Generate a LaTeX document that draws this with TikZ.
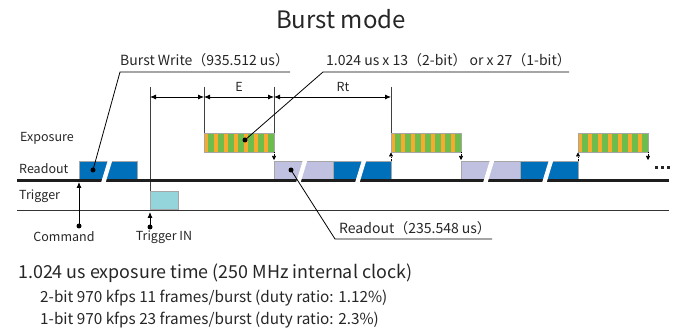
\documentclass[tikz,border=0pt]{standalone}
\usepackage{fontspec}
\setmainfont{Noto Sans CJK JP}
\usetikzlibrary{arrows.meta,positioning,calc}
\definecolor{rdblue}{HTML}{0070BA}
\definecolor{rdlav}{HTML}{C0C0E0}
\definecolor{trgcyan}{HTML}{94D4DB}
\definecolor{expor}{HTML}{F8AA2E}
\definecolor{expgr}{HTML}{6CBD4C}
\definecolor{edgegray}{HTML}{A6A6A6}
\definecolor{lineblk}{HTML}{1E1E1E}

\begin{document}
\begin{tikzpicture}[x=1pt,y=-1pt,>={Latex[length=6pt,width=5pt]},
 lbl/.style={font=\fontsize{12.5}{14}\selectfont,inner sep=0pt,text=black!85},
 call/.style={font=\fontsize{14}{16}\selectfont,inner sep=0pt,text=black!85},
 note/.style={font=\fontsize{15.3}{18}\selectfont,inner sep=0pt,anchor=west,text=black!85},
 leader/.style={line width=0.8pt,black},
 guide/.style={line width=0.8pt,black!75},
 tick/.style={densely dotted,line width=0.6pt,-{Triangle[length=4pt,width=4pt]}},
 dot/.style={fill=black}]
\useasboundingbox (0,0) rectangle (680,331);

% title
\node[font=\fontsize{24}{28}\selectfont,text=black!85] (title) at (341,19) {Burst mode};

% row labels
\node[lbl,anchor=west] (lblexp) at (20,138) {Exposure};
\node[lbl,anchor=west] (lblread) at (19,169) {Readout};
\node[lbl,anchor=west] (lbltrig) at (19,196) {Trigger};

% guide lines and dimensions
\coordinate (g0) at (150,87);
\coordinate (g1) at (204,87);
\coordinate (g2) at (274,87);
\coordinate (g3) at (391,87);
\draw[guide] (g0) -- (150,210);
\draw[guide] (g1) -- (204,133);
\draw[guide] (g2) -- (274,133);
\draw[guide] (g3) -- (391,133);
\draw[<->,line width=0.8pt] ($(g0)+(0,10)$) -- ($(g1)+(0,10)$);
\draw[<->,line width=0.8pt] ($(g1)+(0,10)$) -- ($(g2)+(0,10)$);
\draw[<->,line width=0.8pt] ($(g2)+(0,10)$) -- ($(g3)+(0,10)$);
\node[lbl] (dimE) at (239,87) {E};
\node[lbl] (dimRt) at (343,87) {Rt};

% exposure bars
\foreach \xs in {204,391,578}{
  \fill[expgr] (\xs,133) rectangle ++(70,19);
  \foreach \k in {0,...,6}
    \fill[expor] (\xs+10*\k,133) rectangle ++(4,19);
  \draw[edgegray,line width=0.8pt] (\xs,133) rectangle ++(70,19);
}

% readout blocks
\foreach \xa/\xb/\col in {79/137/rdblue,274/333/rdlav,333/391/rdblue,461/520/rdlav,520/578/rdblue}
  \filldraw[fill=\col,draw=edgegray,line width=0.6pt] (\xa,161) rectangle (\xb,180);
\draw[line width=3pt,lineblk] (17,180.5) -- (669,180.5);
\foreach \xa in {79,274,333,461,520}
  \fill[white] (\xa+29.1,159.5) -- (\xa+33.6,159.5) -- (\xa+26.3,183.5) -- (\xa+21.8,183.5) -- cycle;

% frame handover ticks
\foreach \xt in {274,461,648}
  \draw[tick] (\xt,152) -- (\xt,160);
\foreach \xt in {391,578}
  \draw[tick] (\xt,161) -- (\xt,152.5);
\foreach \d in {655,661,667}
  \fill[black!85] (\d,166.5) rectangle ++(3,3);

% trigger
\draw[line width=1.8pt,black!80] (17,210.5) -- (669,210.5);
\filldraw[fill=trgcyan,draw=edgegray,line width=0.6pt] (150.4,191) rectangle (178,209.5);

% command and trigger in
\coordinate (cmdD) at (79,226);
\coordinate (cmdT) at (79,182);
\coordinate (trgD) at (150,227);
\coordinate (trgT) at (150,212);
\draw[->,line width=0.8pt] (cmdD) -- (cmdT);
\draw[->,line width=0.8pt] (trgD) -- (trgT);
\fill[dot] (cmdD) circle (2.5);
\fill[dot] (trgD) circle (2.5);
\node[lbl] (cmd) at (64,237) {Command};
\node[lbl] (trgin) at (164,237) {Trigger IN};

% callouts
\coordinate (bwL) at (120,72);
\coordinate (bwR) at (290,72);
\coordinate (bwD) at (93,170);
\node[call,anchor=south west] (burstw) at ($(bwL)+(0,-5)$) {Burst Write（935.512 us）};
\draw[leader] (bwR) -- (bwL) -- (bwD);
\fill[dot] (bwD) circle (2.5);

\coordinate (frL) at (323,72);
\coordinate (frR) at (569,72);
\coordinate (frD) at (245,140);
\node[call,anchor=south west] (frames) at ($(frL)+(3,-5)$) {1.024 us x 13（2-bit） or x 27（1-bit）};
\draw[leader] (frR) -- (frL) -- (frD);
\fill[dot] (frD) circle (2.5);

\coordinate (rdL) at (335,239);
\coordinate (rdR) at (492,239);
\coordinate (rdD) at (291,170);
\node[call,anchor=south west] (readt) at ($(rdL)+(4,-4)$) {Readout（235.548 us）};
\draw[leader] (rdR) -- (rdL) -- (rdD);
\fill[dot] (rdD) circle (2.5);

% notes
\node[note,font=\fontsize{17.9}{21}\selectfont] (noteA) at (18,273) {1.024 us exposure time (250 MHz internal clock)};
\node[note] (noteB) at (40,298) {2-bit 970 kfps 11 frames/burst (duty ratio: 1.12\%)};
\node[note] (noteC) at (40,320) {1-bit 970 kfps 23 frames/burst (duty ratio: 2.3\%)};
\end{tikzpicture}
\end{document}
